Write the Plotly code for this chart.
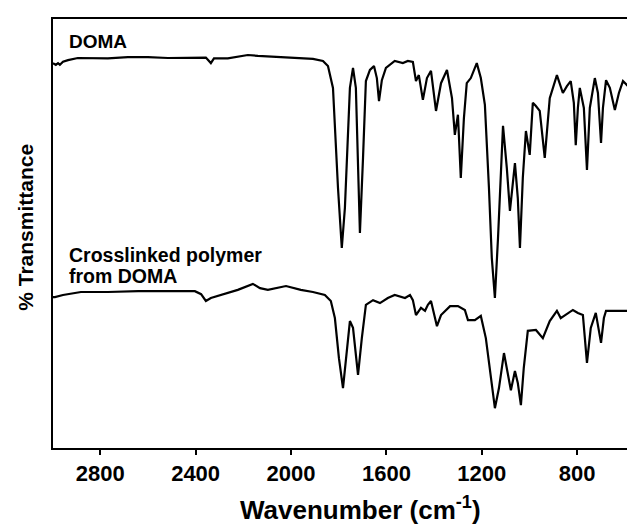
import plotly.graph_objects as go

# DOMA spectrum (wavenumber cm-1, % transmittance, arbitrary offset units)
doma_wn = [2998, 2986, 2977, 2969, 2956, 2935, 2894, 2852, 2768, 2684, 2600, 2516, 2432, 2357, 2336, 2323,
           2265, 2181, 2139, 2055, 1971, 1908, 1866, 1845, 1824, 1803, 1787, 1774, 1753, 1740, 1728, 1711,
           1698, 1686, 1669, 1652, 1640, 1631, 1619, 1602, 1565, 1531, 1510, 1489, 1476, 1464, 1447, 1430,
           1413, 1392, 1371, 1346, 1325, 1313, 1300, 1288, 1275, 1263, 1246, 1221, 1204, 1187, 1170, 1158,
           1145, 1132, 1111, 1095, 1082, 1061, 1049, 1040, 1028, 1015, 999, 986, 974, 957, 936, 915, 885,
           860, 843, 827, 814, 806, 797, 789, 772, 759, 747, 726, 713, 700, 692, 679, 663, 642, 625, 608,
           587, 575, 554, 541, 529]
doma_t = [89.9, 89.5, 89.9, 89.5, 90.2, 90.6, 91.1, 91.1, 91.0, 91.3, 91.3, 91.1, 91.1, 91.2, 89.9, 91.0,
          91.0, 91.8, 91.6, 91.3, 91.1, 90.9, 90.4, 89.2, 84.1, 60.7, 46.6, 56.0, 84.1, 88.8, 84.1, 50.1,
          67.7, 85.7, 88.3, 89.2, 86.4, 81.0, 85.9, 88.8, 90.4, 89.9, 90.4, 90.2, 85.7, 87.1, 81.3, 86.4,
          88.1, 78.7, 85.2, 88.3, 81.7, 73.1, 77.8, 63.0, 77.0, 85.2, 86.4, 89.9, 86.4, 80.1, 60.7, 44.3,
          34.9, 48.9, 75.2, 65.3, 55.3, 66.5, 58.3, 46.6, 63.0, 74.0, 68.4, 80.6, 79.9, 78.7, 67.7, 81.7,
          87.1, 82.9, 84.5, 85.7, 80.6, 70.7, 79.4, 84.1, 79.4, 64.9, 79.4, 86.4, 82.9, 71.2, 79.4, 85.9,
          84.1, 78.9, 82.9, 85.7, 84.5, 84.1, 82.4, 86.4, 88.3]

# Crosslinked polymer from DOMA
poly_wn = [2998, 2990, 2956, 2881, 2768, 2641, 2516, 2403, 2377, 2357, 2336, 2294, 2223, 2160, 2130, 2097,
           2021, 1959, 1908, 1858, 1833, 1816, 1799, 1782, 1770, 1753, 1740, 1719, 1703, 1686, 1656, 1627,
           1594, 1565, 1522, 1501, 1489, 1476, 1455, 1438, 1426, 1413, 1388, 1371, 1333, 1300, 1271, 1258,
           1229, 1204, 1183, 1166, 1145, 1128, 1107, 1078, 1061, 1049, 1036, 1024, 1007, 973, 944, 915, 885,
           869, 818, 797, 776, 759, 743, 722, 700, 688, 679, 629, 575, 554, 541, 529]
poly_t = [35.1, 35.1, 35.6, 36.3, 36.3, 36.5, 36.5, 36.5, 35.8, 34.2, 34.9, 35.6, 36.8, 38.2, 37.2, 36.8,
          37.7, 36.8, 36.3, 35.6, 34.2, 30.2, 20.8, 13.8, 20.8, 29.5, 27.9, 16.9, 25.5, 33.3, 34.4, 33.7,
          34.9, 35.6, 34.9, 35.6, 34.4, 30.9, 32.6, 31.9, 33.3, 34.2, 28.3, 30.9, 33.0, 33.0, 32.1, 29.7,
          29.7, 30.7, 25.5, 18.5, 9.1, 13.8, 22.0, 13.3, 17.8, 15.0, 9.8, 18.5, 27.2, 27.4, 25.5, 29.5, 31.9,
          30.2, 32.1, 31.4, 30.9, 19.7, 27.9, 31.4, 24.4, 30.2, 31.9, 31.9, 31.9, 28.3, 32.6, 35.4]

x_ticks = [2800, 2400, 2000, 1600, 1200, 800]
label_doma = "DOMA"
label_poly = ["Crosslinked polymer", "from DOMA"]
x_title = "Wavenumber (cm<sup>-1</sup>)"
y_title = "% Transmittance"

FONT = "Liberation Sans, Arial, sans-serif"


def bold(size):
    return dict(family=FONT, size=size, color="black", weight="bold")


fig = go.Figure()
fig.add_trace(go.Scatter(x=doma_wn, y=doma_t, mode="lines",
                         line=dict(color="black", width=2.2), showlegend=False))
fig.add_trace(go.Scatter(x=poly_wn, y=poly_t, mode="lines",
                         line=dict(color="black", width=2.2), showlegend=False))

# curve labels
fig.add_annotation(text=label_doma, xref="paper", yref="paper", x=0.023, y=0.9487,
                   xanchor="left", yanchor="middle", showarrow=False, font=bold(19))
fig.add_annotation(text=label_poly[0], xref="paper", yref="paper", x=0.023, y=0.451,
                   xanchor="left", yanchor="middle", showarrow=False, font=bold(19.5))
fig.add_annotation(text=label_poly[1], xref="paper", yref="paper", x=0.023, y=0.401,
                   xanchor="left", yanchor="middle", showarrow=False, font=bold(19.5))

# axis titles (placed as in the cropped original figure)
fig.add_annotation(text=x_title, xref="paper", yref="paper", x=0.522, y=-0.142,
                   xanchor="center", yanchor="middle", showarrow=False, font=bold(26))
fig.add_annotation(text=y_title, xref="paper", yref="paper", x=-0.048, y=0.515,
                   xanchor="center", yanchor="middle", showarrow=False, textangle=-90,
                   font=bold(21))

fig.update_layout(
    width=635, height=529,
    margin=dict(l=45, r=0, t=11, b=89),
    paper_bgcolor="white", plot_bgcolor="white",
    font=dict(family=FONT, color="black"),
    xaxis=dict(
        range=[2998, 524], tickvals=x_ticks, ticktext=[str(v) for v in x_ticks],
        ticks="outside", ticklen=5, tickwidth=2, tickcolor="black",
        tickfont=bold(22),
        showline=True, linecolor="black", linewidth=2, mirror=True,
        showgrid=False, zeroline=False, automargin=False,
    ),
    yaxis=dict(
        range=[-0.23, 100.23], showticklabels=False, ticks="",
        showline=True, linecolor="black", linewidth=2,
        showgrid=False, zeroline=False, automargin=False,
    ),
)

fig.write_html("out.html")
